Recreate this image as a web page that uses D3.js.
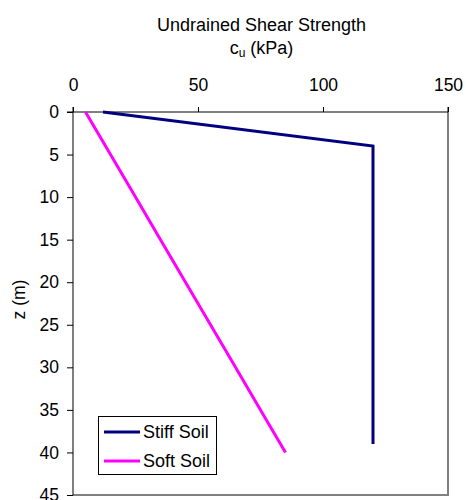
<!DOCTYPE html>
<html>
<head>
<meta charset="utf-8">
<script src="https://cdn.jsdelivr.net/npm/d3@7"></script>
<style>
  html, body { margin: 0; padding: 0; background: #fff; }
  svg text { font-family: "Liberation Sans", Arial, sans-serif; fill: #000; }
</style>
</head>
<body>
<svg id="chart" width="466" height="500"></svg>
<script>
// ---- data ----
const xTicks = [0, 50, 100, 150];
const yTicks = [0, 5, 10, 15, 20, 25, 30, 35, 40, 45];
const stiffDepth = [0, 4, 39];
const stiffCu    = [12, 120, 120];
const softDepth  = [0, 5, 10, 15, 20, 25, 30, 35, 40];
const softCu     = [5, 15, 25, 35, 45, 55, 65, 75, 85];
const seriesNames = ["Stiff Soil", "Soft Soil"];
const seriesColors = ["#000080", "#FF00FF"];

const svg = d3.select("#chart");
const pL = 73, pR = 448, pT = 112, pB = 495;

const x = d3.scaleLinear().domain([0, 150]).range([pL, pR]);
const y = d3.scaleLinear().domain([0, 45]).range([pT, pB]);

const FS = 17.5;
const FT = 18;

// plot border: right and bottom
svg.append("line").attr("x1", pR).attr("x2", pR).attr("y1", pT).attr("y2", pB)
  .attr("stroke", "#000").attr("stroke-width", 1);
svg.append("line").attr("x1", pL).attr("x2", pR + 1).attr("y1", pB).attr("y2", pB)
  .attr("stroke", "#808080").attr("stroke-width", 2);

// top axis
const xAxis = d3.axisTop(x).tickValues(xTicks).tickSize(5).tickPadding(16).tickFormat(d3.format("d"));
const gx = svg.append("g").attr("transform", `translate(0,${pT})`).call(xAxis);
gx.select(".domain").attr("stroke", "#000").attr("d", `M${pL},${-5}V0H${pR}V${-5}`);
gx.selectAll(".tick line").attr("stroke", "#000");
gx.selectAll("text").attr("font-size", FS).style("font-family", "Liberation Sans, Arial, sans-serif").attr("fill", "#000");

// left axis
const yAxis = d3.axisLeft(y).tickValues(yTicks).tickSize(6).tickPadding(8).tickFormat(d3.format("d"));
const gy = svg.append("g").attr("transform", `translate(${pL},0)`).call(yAxis);
gy.select(".domain").attr("stroke", "#000").attr("d", `M-6,${pT}H0V${pB}`);
gy.selectAll(".tick line").attr("stroke", "#000");
gy.selectAll("text").attr("font-size", FS).style("font-family", "Liberation Sans, Arial, sans-serif").attr("fill", "#000");

// titles
svg.append("text").attr("x", (pL + pR) / 2 + 1).attr("y", 31).attr("text-anchor", "middle")
  .attr("font-size", FT).text("Undrained Shear Strength");
const t2 = svg.append("text").attr("x", (pL + pR) / 2 + 1).attr("y", 54).attr("text-anchor", "middle")
  .attr("font-size", FT);
t2.append("tspan").text("c");
t2.append("tspan").attr("font-size", 12).attr("dy", 3).text("u");
t2.append("tspan").attr("dy", -3).text(" (kPa)");

svg.append("text").attr("transform", `translate(25,${(pT + pB) / 2 - 4}) rotate(-90)`)
  .attr("text-anchor", "middle").attr("font-size", FS).text("z (m)");

// lines
const line = d3.line().x(d => x(d[0])).y(d => y(d[1]));
const stiff = stiffCu.map((v, i) => [v, stiffDepth[i]]);
const soft = softCu.map((v, i) => [v, softDepth[i]]);
[stiff, soft].forEach((data, i) => {
  svg.append("path").datum(data).attr("d", line).attr("fill", "none")
    .attr("stroke", seriesColors[i]).attr("stroke-width", 3).attr("stroke-linejoin", "miter");
});

// legend
const lg = svg.append("g");
lg.append("rect").attr("x", 98.5).attr("y", 416.5).attr("width", 118).attr("height", 58)
  .attr("fill", "#fff").attr("stroke", "#000").attr("stroke-width", 1);
seriesNames.forEach((name, i) => {
  const ly = 432 + i * 29;
  lg.append("line").attr("x1", 104).attr("x2", 140).attr("y1", ly).attr("y2", ly)
    .attr("stroke", seriesColors[i]).attr("stroke-width", 3);
  lg.append("text").attr("x", 143).attr("y", ly + 6).attr("font-size", FT).text(name);
});
</script>
</body>
</html>
